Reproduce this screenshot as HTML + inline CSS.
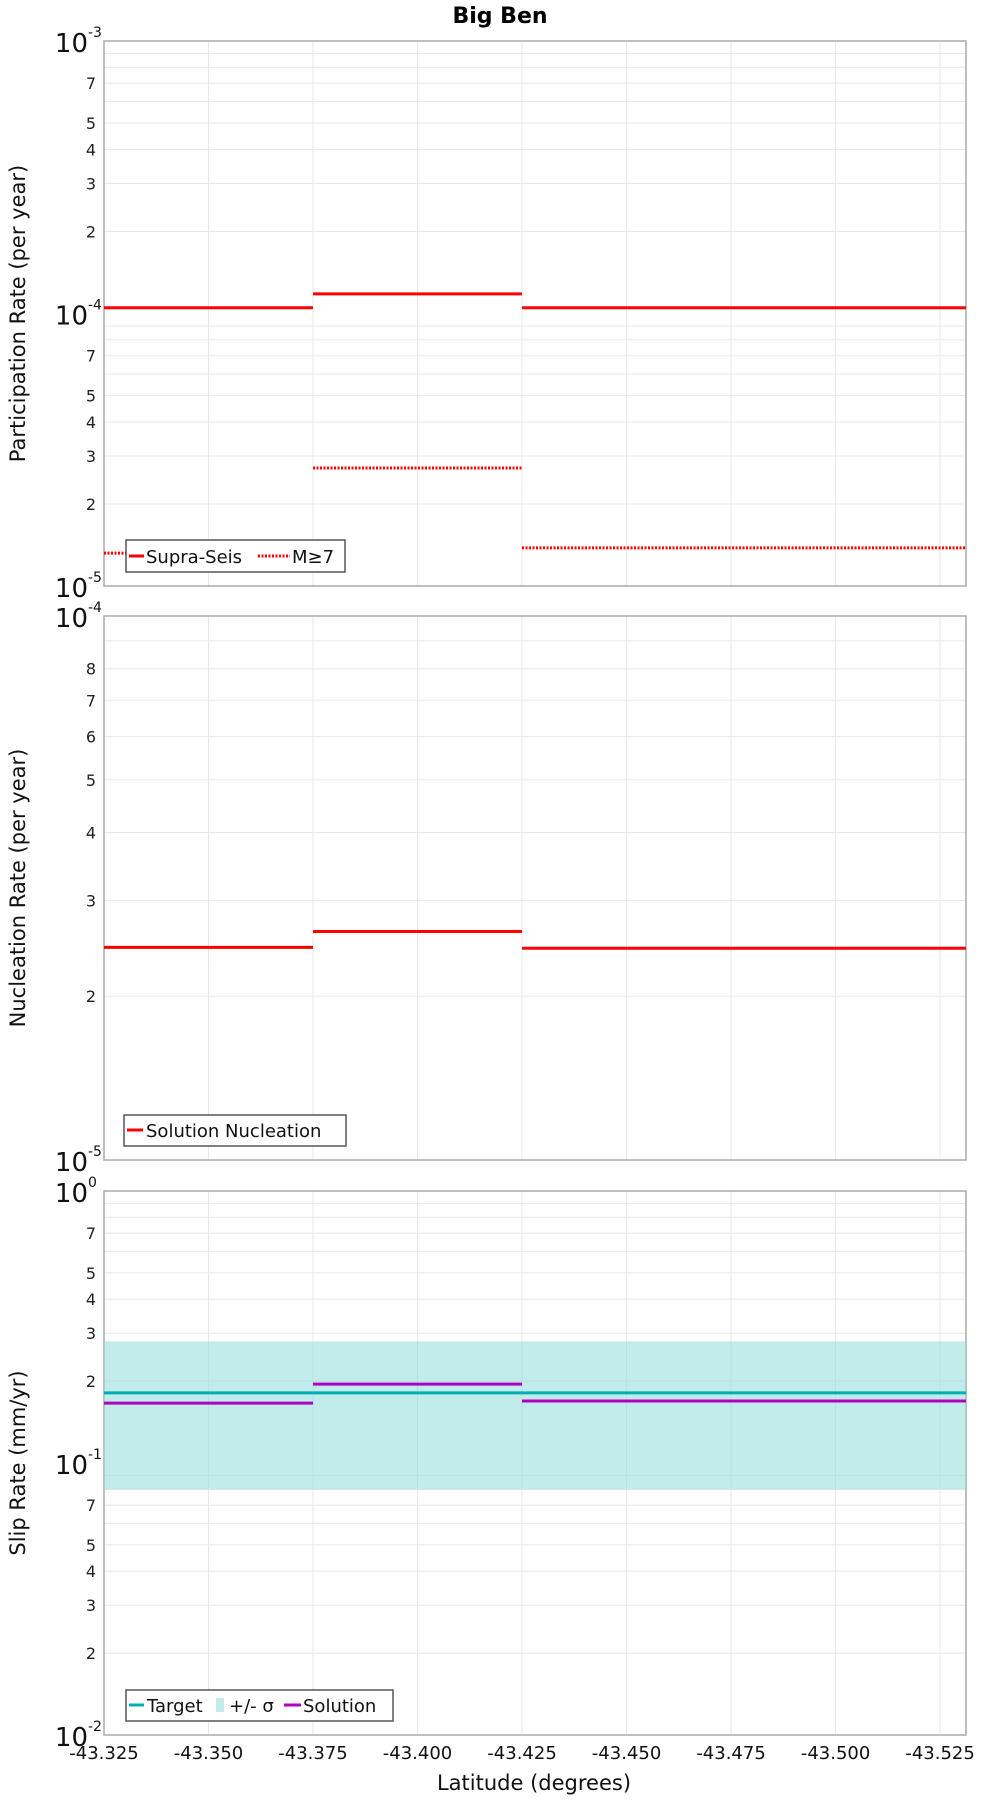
<!DOCTYPE html>
<html><head><meta charset="utf-8"><style>
html,body{margin:0;padding:0;background:#fff;}
svg{display:block;font-family:"DejaVu Sans","Liberation Sans",sans-serif;}
</style></head><body>
<svg id="chart" width="1000" height="1800" viewBox="0 0 1000 1800" xmlns="http://www.w3.org/2000/svg">
<text x="500" y="23" text-anchor="middle" font-size="22" font-weight="bold">Big Ben</text>
</svg>
<script>
// ---- data ----
const segStarts = [-43.325, -43.375, -43.425];
const segEnds = [-43.375, -43.425, -43.5312];
const xTicks = [-43.325, -43.350, -43.375, -43.400, -43.425, -43.450, -43.475, -43.500, -43.525];
const xTickLabels = ["-43.325","-43.350","-43.375","-43.400","-43.425","-43.450","-43.475","-43.500","-43.525"];
const supraSeis = [1.05e-4, 1.18e-4, 1.05e-4];
const m7 = [1.32e-5, 2.71e-5, 1.38e-5];
const nucleation = [2.46e-5, 2.63e-5, 2.45e-5];
const targetSlip = [0.181, 0.181, 0.181];
const sigmaHigh = [0.28, 0.28, 0.28];
const sigmaLow = [0.080, 0.080, 0.080];
const solutionSlip = [0.166, 0.195, 0.169];

const NS = "http://www.w3.org/2000/svg";
const svg = document.getElementById("chart");
const X0 = 104, X1 = 966, XMIN = -43.325, XMAX = -43.5312;
function xs(v){ return X0 + (v - XMIN) / (XMAX - XMIN) * (X1 - X0); }
function mk(tag, attrs, parent){
  const e = document.createElementNS(NS, tag);
  for (const k in attrs) e.setAttribute(k, attrs[k]);
  (parent || svg).appendChild(e);
  return e;
}
function panel(name, top, bot, lmin, lmax, labels, title){
  const g = mk("g", {});
  
  
  const ys = v => bot - (Math.log10(v) - lmin) / (lmax - lmin) * (bot - top);
  for (let d = lmin; d < lmax; d++) {
    for (let m = 2; m <= 9; m++) {
      const y = ys(m * Math.pow(10, d));
      const gl = mk("line", {x1:X0, x2:X1, y1:y, y2:y, stroke:"#e8e8e8", "stroke-width":1}, g);
      
      
      if (labels.indexOf(m) >= 0) {
        const t = mk("text", {x:96, y:y+6, "text-anchor":"end", "font-size":16, fill:"#222"}, g);
        
        
        t.textContent = String(m);
      }
    }
  }
  xTicks.forEach(v => {
    const gl = mk("line", {x1:xs(v), x2:xs(v), y1:top, y2:bot, stroke:"#e8e8e8", "stroke-width":1}, g);
    
    
  });
  for (let d = lmin; d <= lmax; d++) {
    const y = ys(Math.pow(10, d));
    const t = mk("text", {x:88, y:y+11, "text-anchor":"end", "font-size":26, fill:"#111"}, g);
    
    
    t.textContent = "10";
    const s = mk("text", {x:88, y:y-4, "text-anchor":"start", "font-size":14, fill:"#111"}, g);
    
    
    s.textContent = String(d);
  }
  const fr = mk("rect", {x:X0, y:top, width:X1-X0, height:bot-top, fill:"none", stroke:"#aaa", "stroke-width":1.5}, g);
  
  
  const tt = mk("text", {x:0, y:0, "text-anchor":"middle", "font-size":21, fill:"#111",
    transform:"translate(25," + ((top+bot)/2) + ") rotate(-90)"}, g);
  
  
  tt.textContent = title;
  return {g, ys};
}
function steps(p, vals, color, dash, name){
  vals.forEach((v, i) => {
    const y = p.ys(v);
    const a = {x1:xs(segStarts[i]), x2:xs(segEnds[i]), y1:y, y2:y, stroke:color, "stroke-width":3};
    if (dash) a["stroke-dasharray"] = "2,1.5";
    const l = mk("line", a, p.g);
    
    
  });
}
function legendBox(p, x, y, w, h, name){
  const r = mk("rect", {x, y, width:w, height:h, fill:"#fff", stroke:"#555", "stroke-width":1.5}, p.g);
  
  
}
function legendText(p, x, y, str){
  const t = mk("text", {x, y, "font-size":18, fill:"#111"}, p.g);
  
  
  t.textContent = str;
}
function legendLine(p, x1, x2, y, color, dash){
  const a = {x1, x2, y1:y, y2:y, stroke:color, "stroke-width":3};
  if (dash) a["stroke-dasharray"] = "2,1.5";
  const l = mk("line", a, p.g);
  
  
}

const p1 = panel("participation-panel", 41, 586, -5, -3, [2,3,4,5,7], "Participation Rate (per year)");
steps(p1, supraSeis, "#ff0000", false, "supra-seis-step");
steps(p1, m7, "#ff0000", true, "m7-step");
legendBox(p1, 126, 540, 219, 32, "participation-legend");
legendLine(p1, 129, 144, 556, "#ff0000", false);
legendText(p1, 146, 563, "Supra-Seis");
legendLine(p1, 258, 290, 556, "#ff0000", true);
legendText(p1, 292, 563, "M\u22657");

const p2 = panel("nucleation-panel", 616, 1160, -5, -4, [2,3,4,5,6,7,8], "Nucleation Rate (per year)");
steps(p2, nucleation, "#ff0000", false, "nucleation-step");
legendBox(p2, 124, 1115, 222, 31, "nucleation-legend");
legendLine(p2, 127, 143, 1130, "#ff0000", false);
legendText(p2, 146, 1137, "Solution Nucleation");

const p3 = panel("slip-rate-panel", 1191, 1735, -2, 0, [2,3,4,5,7], "Slip Rate (mm/yr)");
sigmaHigh.forEach((v, i) => {
  const y1 = p3.ys(v), y2 = p3.ys(sigmaLow[i]);
  const r = mk("rect", {x:xs(segStarts[i]), y:y1, width:xs(segEnds[i]) - xs(segStarts[i]), height:y2 - y1, fill:"#8fdcdb", "fill-opacity":0.55}, p3.g);
  
  
});
steps(p3, targetSlip, "#00b0b0", false, "target-step");
steps(p3, solutionSlip, "#b000c0", false, "solution-step");
legendBox(p3, 126, 1690, 267, 31, "slip-legend");
legendLine(p3, 129, 144, 1705, "#00b0b0", false);
legendText(p3, 147, 1712, "Target");
const sw = mk("rect", {x:216, y:1698, width:8, height:14, fill:"#c2ecec"}, p3.g);


legendText(p3, 229, 1712, "+/- \u03c3");
legendLine(p3, 284, 301, 1705, "#b000c0", false);
legendText(p3, 303, 1712, "Solution");

xTicks.forEach((v, i) => {
  const t = mk("text", {x:xs(v), y:1759, "text-anchor":"middle", "font-size":18, fill:"#111"});
  
  
  t.textContent = xTickLabels[i];
});
const xt = mk("text", {x:534, y:1790, "text-anchor":"middle", "font-size":21, fill:"#111"});


xt.textContent = "Latitude (degrees)";
</script>
</body></html>
